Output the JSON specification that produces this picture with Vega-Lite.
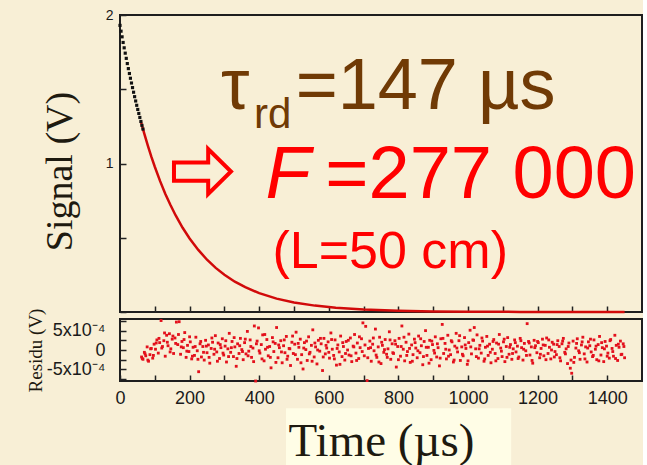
{
  "$schema": "https://vega.github.io/schema/vega-lite/v6.json",
  "background": "#F8EFD6",
  "padding": {"left": 25, "top": 7, "right": 0, "bottom": 0},
  "bounds": "flush",
  "spacing": 7,
  "datasets": {
    "raw": [
      {"t":0,"v":1.930},{"t":3,"v":1.891},{"t":6,"v":1.853},{"t":9,"v":1.815},{"t":12,"v":1.779},{"t":15,"v":1.743},{"t":18,"v":1.708},{"t":21,"v":1.673},{"t":24,"v":1.639},{"t":27,"v":1.606},{"t":30,"v":1.574},{"t":33,"v":1.542},{"t":36,"v":1.511},{"t":39,"v":1.480},{"t":42,"v":1.450},{"t":45,"v":1.421},{"t":48,"v":1.392},{"t":51,"v":1.364},{"t":54,"v":1.337},{"t":57,"v":1.310},{"t":60,"v":1.283},{"t":63,"v":1.257},{"t":66,"v":1.232}
    ],
    "fit": [
      {"t":60,"v":1.283},{"t":70,"v":1.199},{"t":80,"v":1.120},{"t":90,"v":1.046},{"t":100,"v":0.978},{"t":115,"v":0.883},{"t":130,"v":0.797},{"t":145,"v":0.720},{"t":160,"v":0.650},{"t":180,"v":0.567},{"t":200,"v":0.495},{"t":225,"v":0.418},{"t":250,"v":0.352},{"t":275,"v":0.297},{"t":300,"v":0.251},{"t":330,"v":0.204},{"t":360,"v":0.167},{"t":400,"v":0.127},{"t":450,"v":0.090},{"t":500,"v":0.064},{"t":560,"v":0.043},{"t":620,"v":0.028},{"t":700,"v":0.0165},{"t":800,"v":0.0084},{"t":900,"v":0.0042},{"t":1000,"v":0.0021},{"t":1150,"v":0.0008},{"t":1300,"v":0.0003},{"t":1450,"v":0.0001}
    ],
    "res": [
      {"t":62,"r":-1.8e-4},{"t":66,"r":-2.4e-4},{"t":70,"r":-0.6e-4},{"t":74,"r":-1.5e-4},{"t":78,"r":0.8e-4},{"t":82,"r":-2.9e-4},{"t":86,"r":-1.2e-4},{"t":90,"r":0.4e-4},{"t":94,"r":-2.1e-4},{"t":98,"r":1.5e-4},
      {"t":102,"r":0.2e-4},{"t":106,"r":2.6e-4},{"t":110,"r":-0.8e-4},{"t":114,"r":1.9e-4},{"t":118,"r":7.6e-4},{"t":122,"r":0.9e-4},{"t":126,"r":2.4e-4},{"t":130,"r":-1.6e-4},{"t":134,"r":3.8e-4},{"t":138,"r":1.1e-4},
      {"t":142,"r":4.2e-4},{"t":146,"r":0.3e-4},{"t":150,"r":2.8e-4},{"t":154,"r":-0.9e-4},{"t":158,"r":3.1e-4},{"t":162,"r":7.2e-4},{"t":166,"r":1.4e-4},{"t":170,"r":7.3e-4},{"t":174,"r":-1.1e-4},{"t":178,"r":2.2e-4},
      {"t":182,"r":0.6e-4},{"t":186,"r":4.5e-4},{"t":190,"r":-1.9e-4},{"t":194,"r":1.2e-4},{"t":198,"r":-0.4e-4},{"t":202,"r":2.1e-4},{"t":206,"r":-2.3e-4},{"t":210,"r":0.7e-4},{"t":214,"r":-1.4e-4},{"t":218,"r":3.3e-4},
      {"t":222,"r":-0.2e-4},{"t":226,"r":-5.6e-4},{"t":230,"r":1.6e-4},{"t":234,"r":-1.8e-4},{"t":238,"r":0.9e-4},{"t":242,"r":-2.6e-4},{"t":246,"r":2.5e-4},{"t":250,"r":-0.7e-4},{"t":254,"r":1.3e-4},{"t":258,"r":-3.4e-4},
      {"t":262,"r":0.4e-4},{"t":266,"r":2.0e-4},{"t":270,"r":-1.1e-4},{"t":274,"r":3.7e-4},{"t":278,"r":-0.5e-4},{"t":282,"r":1.8e-4},{"t":286,"r":-2.2e-4},{"t":290,"r":0.6e-4},{"t":294,"r":2.9e-4},{"t":298,"r":-1.3e-4},
      {"t":302,"r":1.0e-4},{"t":306,"r":-3.1e-4},{"t":310,"r":0.3e-4},{"t":314,"r":4.3e-4},{"t":318,"r":-0.6e-4},{"t":322,"r":2.2e-4},{"t":326,"r":-1.7e-4},{"t":330,"r":0.8e-4},{"t":334,"r":-4.2e-4},{"t":338,"r":1.6e-4},
      {"t":342,"r":-0.9e-4},{"t":346,"r":3.0e-4},{"t":350,"r":0.1e-4},{"t":354,"r":-2.5e-4},{"t":358,"r":1.9e-4},{"t":362,"r":-1.0e-4},{"t":366,"r":4.8e-4},{"t":370,"r":-0.3e-4},{"t":374,"r":2.6e-4},{"t":378,"r":-1.9e-4},
      {"t":382,"r":0.5e-4},{"t":386,"r":6.2e-4},{"t":390,"r":-8.0e-4},{"t":394,"r":2.3e-4},{"t":398,"r":5.7e-4},{"t":402,"r":-0.8e-4},{"t":406,"r":1.4e-4},{"t":410,"r":3.9e-4},{"t":414,"r":-2.8e-4},{"t":418,"r":0.2e-4},
      {"t":422,"r":2.7e-4},{"t":426,"r":-1.5e-4},{"t":430,"r":0.9e-4},{"t":434,"r":-4.6e-4},{"t":438,"r":3.2e-4},{"t":442,"r":-0.4e-4},{"t":446,"r":1.7e-4},{"t":450,"r":5.8e-4},{"t":454,"r":-2.0e-4},{"t":458,"r":0.6e-4},
      {"t":462,"r":2.4e-4},{"t":466,"r":-3.3e-4},{"t":470,"r":1.1e-4},{"t":474,"r":-0.7e-4},{"t":478,"r":3.5e-4},{"t":482,"r":-1.6e-4},{"t":486,"r":0.4e-4},{"t":490,"r":-4.0e-4},{"t":494,"r":2.0e-4},{"t":498,"r":-0.9e-4},
      {"t":502,"r":1.5e-4},{"t":506,"r":4.6e-4},{"t":510,"r":-2.4e-4},{"t":514,"r":0.7e-4},{"t":518,"r":2.8e-4},{"t":522,"r":-1.2e-4},{"t":526,"r":-4.9e-4},{"t":530,"r":1.9e-4},{"t":534,"r":0.1e-4},{"t":538,"r":-2.7e-4},
      {"t":542,"r":3.4e-4},{"t":546,"r":-0.6e-4},{"t":550,"r":1.2e-4},{"t":554,"r":5.2e-4},{"t":558,"r":-1.8e-4},{"t":562,"r":0.8e-4},{"t":566,"r":-3.6e-4},{"t":570,"r":2.5e-4},{"t":574,"r":-0.3e-4},{"t":578,"r":1.6e-4},
      {"t":582,"r":-5.3e-4},{"t":586,"r":3.0e-4},{"t":590,"r":-1.0e-4},{"t":594,"r":0.5e-4},{"t":598,"r":2.1e-4},{"t":602,"r":-2.1e-4},{"t":606,"r":4.4e-4},{"t":610,"r":0.2e-4},{"t":614,"r":-1.4e-4},{"t":618,"r":2.6e-4},
      {"t":622,"r":-3.9e-4},{"t":626,"r":1.3e-4},{"t":630,"r":-0.5e-4},{"t":634,"r":3.6e-4},{"t":638,"r":-1.7e-4},{"t":642,"r":0.9e-4},{"t":646,"r":-2.6e-4},{"t":650,"r":2.2e-4},{"t":654,"r":0.0},{"t":658,"r":-1.3e-4},
      {"t":662,"r":3.1e-4},{"t":666,"r":-3.0e-4},{"t":670,"r":1.0e-4},{"t":674,"r":4.0e-4},{"t":678,"r":-0.8e-4},{"t":682,"r":1.8e-4},{"t":686,"r":-2.2e-4},{"t":690,"r":0.6e-4},{"t":694,"r":2.9e-4},{"t":698,"r":7.0e-4},
      {"t":702,"r":-1.5e-4},{"t":706,"r":6.1e-4},{"t":710,"r":-7.9e-4},{"t":714,"r":0.4e-4},{"t":718,"r":2.3e-4},{"t":722,"r":-2.9e-4},{"t":726,"r":1.5e-4},{"t":730,"r":-0.2e-4},{"t":734,"r":5.4e-4},{"t":738,"r":-1.9e-4},
      {"t":742,"r":0.8e-4},{"t":746,"r":3.3e-4},{"t":750,"r":-3.5e-4},{"t":754,"r":1.2e-4},{"t":758,"r":-0.6e-4},{"t":762,"r":2.7e-4},{"t":766,"r":-1.1e-4},{"t":770,"r":0.3e-4},{"t":774,"r":4.7e-4},{"t":778,"r":-2.4e-4},
      {"t":782,"r":1.6e-4},{"t":786,"r":-0.9e-4},{"t":790,"r":2.4e-4},{"t":794,"r":-4.4e-4},{"t":798,"r":0.9e-4},{"t":802,"r":3.0e-4},{"t":806,"r":-1.6e-4},{"t":810,"r":6.2e-4},{"t":814,"r":0.2e-4},{"t":818,"r":-2.8e-4},
      {"t":822,"r":2.0e-4},{"t":826,"r":-0.4e-4},{"t":830,"r":4.1e-4},{"t":834,"r":-3.2e-4},{"t":838,"r":1.3e-4},{"t":842,"r":-1.2e-4},{"t":846,"r":2.8e-4},{"t":850,"r":0.5e-4},{"t":854,"r":-2.0e-4},{"t":858,"r":3.6e-4},
      {"t":862,"r":-0.7e-4},{"t":866,"r":1.1e-4},{"t":870,"r":-3.8e-4},{"t":874,"r":2.2e-4},{"t":878,"r":5.0e-4},{"t":882,"r":-1.4e-4},{"t":886,"r":0.7e-4},{"t":890,"r":2.5e-4},{"t":894,"r":-2.5e-4},{"t":898,"r":1.4e-4},
      {"t":902,"r":-0.1e-4},{"t":906,"r":3.4e-4},{"t":910,"r":-1.8e-4},{"t":914,"r":0.6e-4},{"t":918,"r":-4.1e-4},{"t":922,"r":2.9e-4},{"t":926,"r":6.6e-4},{"t":930,"r":-0.9e-4},{"t":934,"r":1.7e-4},{"t":938,"r":-2.3e-4},
      {"t":942,"r":3.8e-4},{"t":946,"r":0.0},{"t":950,"r":-1.2e-4},{"t":954,"r":2.1e-4},{"t":958,"r":-3.1e-4},{"t":962,"r":1.0e-4},{"t":966,"r":4.3e-4},{"t":970,"r":-0.5e-4},{"t":974,"r":2.4e-4},{"t":978,"r":-2.7e-4},
      {"t":982,"r":0.8e-4},{"t":986,"r":-1.5e-4},{"t":990,"r":3.2e-4},{"t":994,"r":0.4e-4},{"t":998,"r":-3.7e-4},{"t":1002,"r":1.9e-4},{"t":1006,"r":5.1e-4},{"t":1010,"r":-1.0e-4},{"t":1014,"r":2.6e-4},{"t":1018,"r":5.8e-4},
      {"t":1022,"r":0.3e-4},{"t":1026,"r":3.9e-4},{"t":1030,"r":-2.1e-4},{"t":1034,"r":1.2e-4},{"t":1038,"r":-0.8e-4},{"t":1042,"r":2.3e-4},{"t":1046,"r":-2.9e-4},{"t":1050,"r":0.7e-4},{"t":1054,"r":3.5e-4},{"t":1058,"r":-1.4e-4},
      {"t":1062,"r":1.5e-4},{"t":1066,"r":-3.3e-4},{"t":1070,"r":0.2e-4},{"t":1074,"r":2.7e-4},{"t":1078,"r":-0.9e-4},{"t":1082,"r":1.8e-4},{"t":1086,"r":-2.2e-4},{"t":1090,"r":4.0e-4},{"t":1094,"r":0.5e-4},{"t":1098,"r":-1.7e-4},
      {"t":1102,"r":2.1e-4},{"t":1106,"r":-3.0e-4},{"t":1110,"r":0.9e-4},{"t":1114,"r":3.2e-4},{"t":1118,"r":-1.1e-4},{"t":1122,"r":1.4e-4},{"t":1126,"r":-2.4e-4},{"t":1130,"r":0.3e-4},{"t":1134,"r":2.6e-4},{"t":1138,"r":-0.5e-4},
      {"t":1142,"r":1.0e-4},{"t":1146,"r":-1.8e-4},{"t":1150,"r":3.0e-4},{"t":1154,"r":0.6e-4},{"t":1158,"r":-2.6e-4},{"t":1162,"r":1.7e-4},{"t":1166,"r":-0.2e-4},{"t":1170,"r":6.8e-4},{"t":1174,"r":2.2e-4},{"t":1178,"r":-1.3e-4},
      {"t":1182,"r":0.8e-4},{"t":1186,"r":-3.4e-4},{"t":1190,"r":2.5e-4},{"t":1194,"r":1.1e-4},{"t":1198,"r":-0.7e-4},{"t":1202,"r":1.9e-4},{"t":1206,"r":-2.0e-4},{"t":1210,"r":0.4e-4},{"t":1214,"r":2.8e-4},{"t":1218,"r":-1.5e-4},
      {"t":1222,"r":1.2e-4},{"t":1226,"r":3.1e-4},{"t":1230,"r":-0.9e-4},{"t":1234,"r":0.7e-4},{"t":1238,"r":-2.3e-4},{"t":1242,"r":2.0e-4},{"t":1246,"r":1.5e-4},{"t":1250,"r":-0.4e-4},{"t":1254,"r":-1.2e-4},{"t":1258,"r":2.4e-4},
      {"t":1262,"r":0.9e-4},{"t":1266,"r":-2.8e-4},{"t":1270,"r":1.6e-4},{"t":1274,"r":3.0e-4},{"t":1278,"r":-0.6e-4},{"t":1282,"r":0.3e-4},{"t":1286,"r":-3.5e-4},{"t":1290,"r":1.8e-4},{"t":1294,"r":-4.7e-4},{"t":1298,"r":-6.0e-4},
      {"t":1302,"r":2.3e-4},{"t":1306,"r":-1.9e-4},{"t":1310,"r":0.5e-4},{"t":1314,"r":2.9e-4},{"t":1318,"r":-0.2e-4},{"t":1322,"r":-2.4e-4},{"t":1326,"r":1.3e-4},{"t":1330,"r":3.3e-4},{"t":1334,"r":-1.0e-4},{"t":1338,"r":0.8e-4},
      {"t":1342,"r":-3.1e-4},{"t":1346,"r":2.1e-4},{"t":1350,"r":1.1e-4},{"t":1354,"r":-0.5e-4},{"t":1358,"r":-1.7e-4},{"t":1362,"r":2.6e-4},{"t":1366,"r":0.2e-4},{"t":1370,"r":-2.5e-4},{"t":1374,"r":1.4e-4},{"t":1378,"r":3.5e-4},
      {"t":1382,"r":-1.3e-4},{"t":1386,"r":0.6e-4},{"t":1390,"r":-3.0e-4},{"t":1394,"r":2.2e-4},{"t":1398,"r":1.0e-4},{"t":1402,"r":-0.8e-4},{"t":1406,"r":-2.1e-4},{"t":1410,"r":2.7e-4},{"t":1414,"r":0.4e-4},{"t":1418,"r":-1.6e-4},
      {"t":1422,"r":3.8e-4},{"t":1426,"r":1.2e-4},{"t":1430,"r":-2.7e-4},{"t":1434,"r":0.7e-4},{"t":1438,"r":2.3e-4},{"t":1442,"r":-1.1e-4},{"t":1446,"r":1.6e-4},{"t":1450,"r":-2.0e-4},
      {"t":64,"r":-2.2e-4},{"t":72,"r":-1.0e-4},{"t":80,"r":-2.6e-4},{"t":88,"r":0.3e-4},{"t":96,"r":-1.4e-4},{"t":104,"r":1.8e-4},{"t":112,"r":3.0e-4},{"t":120,"r":0.5e-4},{"t":128,"r":4.4e-4},{"t":136,"r":2.0e-4},
      {"t":144,"r":-0.5e-4},{"t":152,"r":3.6e-4},{"t":160,"r":1.7e-4},{"t":168,"r":4.0e-4},{"t":176,"r":0.8e-4},{"t":184,"r":2.7e-4},{"t":192,"r":-0.3e-4},{"t":200,"r":3.4e-4},{"t":208,"r":-1.6e-4},{"t":216,"r":0.9e-4},
      {"t":224,"r":-2.4e-4},{"t":232,"r":2.2e-4},{"t":240,"r":-0.6e-4},{"t":248,"r":1.0e-4},{"t":256,"r":-1.9e-4},{"t":264,"r":3.1e-4},{"t":272,"r":0.2e-4},{"t":280,"r":-2.9e-4},{"t":288,"r":1.4e-4},{"t":296,"r":-0.8e-4},
      {"t":304,"r":2.4e-4},{"t":312,"r":-1.7e-4},{"t":320,"r":0.6e-4},{"t":328,"r":3.2e-4},{"t":336,"r":-2.2e-4},{"t":344,"r":1.1e-4},{"t":352,"r":-0.4e-4},{"t":360,"r":2.8e-4},{"t":368,"r":-1.5e-4},{"t":376,"r":0.9e-4},
      {"t":384,"r":-3.0e-4},{"t":392,"r":1.6e-4},{"t":400,"r":-0.2e-4},{"t":408,"r":-2.3e-4},{"t":416,"r":4.0e-4},{"t":424,"r":0.7e-4},{"t":432,"r":-1.9e-4},{"t":440,"r":2.1e-4},{"t":448,"r":-3.2e-4},{"t":456,"r":1.3e-4},
      {"t":464,"r":-0.5e-4},{"t":472,"r":2.6e-4},{"t":480,"r":-2.4e-4},{"t":488,"r":0.3e-4},{"t":496,"r":3.6e-4},{"t":504,"r":-1.2e-4},{"t":512,"r":1.7e-4},{"t":520,"r":-3.3e-4},{"t":528,"r":0.5e-4},{"t":536,"r":2.3e-4},
      {"t":544,"r":-1.0e-4},{"t":552,"r":-2.9e-4},{"t":560,"r":1.8e-4},{"t":568,"r":0.0},{"t":576,"r":3.0e-4},{"t":584,"r":-1.8e-4},{"t":592,"r":1.2e-4},{"t":600,"r":-0.6e-4},{"t":608,"r":2.7e-4},{"t":616,"r":-2.3e-4},
      {"t":624,"r":0.4e-4},{"t":632,"r":-3.7e-4},{"t":640,"r":1.9e-4},{"t":648,"r":-0.9e-4},{"t":656,"r":2.5e-4},{"t":664,"r":-1.5e-4},{"t":672,"r":0.8e-4},{"t":680,"r":-2.7e-4},{"t":688,"r":3.4e-4},{"t":696,"r":-0.4e-4},
      {"t":704,"r":1.3e-4},{"t":712,"r":-2.0e-4},{"t":720,"r":0.6e-4},{"t":728,"r":3.1e-4},{"t":736,"r":-1.3e-4},{"t":744,"r":-3.1e-4},{"t":752,"r":2.0e-4},{"t":760,"r":0.1e-4},{"t":768,"r":-1.9e-4},{"t":776,"r":2.6e-4},
      {"t":784,"r":-0.7e-4},{"t":792,"r":1.5e-4},{"t":800,"r":-2.5e-4},{"t":808,"r":0.9e-4},{"t":816,"r":3.3e-4},{"t":824,"r":-1.4e-4},{"t":832,"r":0.4e-4},{"t":840,"r":-2.9e-4},{"t":848,"r":1.9e-4},{"t":856,"r":-0.2e-4},
      {"t":864,"r":2.9e-4},{"t":872,"r":-1.7e-4},{"t":880,"r":0.7e-4},{"t":888,"r":-3.4e-4},{"t":896,"r":2.3e-4},{"t":904,"r":-0.8e-4},{"t":912,"r":1.6e-4},{"t":920,"r":-2.1e-4},{"t":928,"r":3.0e-4},{"t":936,"r":0.2e-4},
      {"t":944,"r":-1.6e-4},{"t":952,"r":2.4e-4},{"t":960,"r":-2.6e-4},{"t":968,"r":0.5e-4},{"t":976,"r":3.7e-4},{"t":984,"r":-1.1e-4},{"t":992,"r":1.3e-4},{"t":1000,"r":-2.8e-4},{"t":1008,"r":0.8e-4},{"t":1016,"r":2.5e-4},
      {"t":1024,"r":-1.7e-4},{"t":1032,"r":0.3e-4},{"t":1040,"r":3.1e-4},{"t":1048,"r":-2.3e-4},{"t":1056,"r":1.0e-4},{"t":1064,"r":-0.6e-4},{"t":1072,"r":2.2e-4},{"t":1080,"r":-2.8e-4},{"t":1088,"r":1.5e-4},{"t":1096,"r":-0.3e-4},
      {"t":1104,"r":2.8e-4},{"t":1112,"r":-1.9e-4},{"t":1120,"r":0.7e-4},{"t":1128,"r":-0.9e-4},{"t":1136,"r":1.9e-4},{"t":1144,"r":-2.2e-4},{"t":1152,"r":2.4e-4},{"t":1160,"r":0.2e-4},{"t":1168,"r":-1.4e-4},{"t":1176,"r":1.8e-4},
      {"t":1184,"r":-2.7e-4},{"t":1192,"r":0.6e-4},{"t":1200,"r":2.2e-4},{"t":1208,"r":-1.1e-4},{"t":1216,"r":1.3e-4},{"t":1224,"r":-2.5e-4},{"t":1232,"r":2.6e-4},{"t":1240,"r":0.0},{"t":1248,"r":-1.8e-4},{"t":1256,"r":1.4e-4},
      {"t":1264,"r":-2.0e-4},{"t":1272,"r":2.3e-4},{"t":1280,"r":-1.0e-4},{"t":1288,"r":0.9e-4},{"t":1296,"r":-2.6e-4},{"t":1304,"r":-3.2e-4},{"t":1312,"r":1.7e-4},{"t":1320,"r":-0.7e-4},{"t":1328,"r":2.1e-4},{"t":1336,"r":-2.3e-4},
      {"t":1344,"r":0.5e-4},{"t":1352,"r":2.8e-4},{"t":1360,"r":-1.4e-4},{"t":1368,"r":1.0e-4},{"t":1376,"r":-2.8e-4},{"t":1384,"r":1.9e-4},{"t":1392,"r":0.3e-4},{"t":1400,"r":-1.6e-4},{"t":1408,"r":2.4e-4},{"t":1416,"r":-0.4e-4},
      {"t":1424,"r":-2.2e-4},{"t":1432,"r":1.5e-4},{"t":1440,"r":-1.2e-4},{"t":1448,"r":0.9e-4}
    ]
  },
  "vconcat": [
    {
      "width": 522,
      "height": 297,
      "encoding": {
        "x": {"field": "t", "type": "quantitative", "scale": {"domain": [0, 1500], "nice": false},
          "axis": {"values": [100,200,300,400,500,600,700,800,900,1000,1100,1200,1300,1400], "labels": false, "tickSize": -6, "title": null}},
        "y": {"field": "v", "type": "quantitative", "scale": {"domain": [0, 2], "nice": false},
          "axis": {"values": [0, 0.5, 1, 1.5, 2], "labelExpr": "datum.value == 1 ? '1' : datum.value == 2 ? '2' : ''", "tickSize": -6, "labelFontSize": 14, "labelPadding": 13,
            "title": "Signal (V)", "titleFontSize": 38, "titleX": -49, "titleY": 156, "titleBaseline": "alphabetic", "titleAngle": 270}}
      },
      "layer": [
        {"data": {"name": "fit"}, "mark": {"type": "line", "color": "#D10A0A", "strokeWidth": 2.5}},
        {"data": {"name": "raw"}, "mark": {"type": "square", "color": "#111111", "size": 10, "opacity": 1}},
        {"data": {"values": [{"t": 290, "v": 1.367, "label": "τ"}, {"t": 505, "v": 1.367, "label": "=147 µs"}]},
          "mark": {"type": "text", "align": "left", "baseline": "alphabetic", "font": "Liberation Sans", "fontSize": 72, "color": "#703A05"},
          "encoding": {"text": {"field": "label"}}},
        {"data": {"values": [{"t": 385, "v": 1.239, "label": "rd"}]},
          "mark": {"type": "text", "align": "left", "baseline": "alphabetic", "font": "Liberation Sans", "fontSize": 42, "color": "#703A05"},
          "encoding": {"text": {"field": "label"}}},
        {"data": {"values": [{"t": 237, "v": 0.946}]},
          "mark": {"type": "point", "shape": "M-1,-0.32L0.2,-0.32L0.2,-0.79L1,0L0.2,0.79L0.2,0.32L-1,0.32Z", "size": 3249, "filled": false, "stroke": "#FF0000", "strokeWidth": 4, "opacity": 1}},
        {"data": {"values": [{"t": 418, "v": 0.768, "label": "F"}]},
          "mark": {"type": "text", "align": "left", "baseline": "alphabetic", "font": "Liberation Sans", "fontStyle": "italic", "fontSize": 74, "color": "#FF0000"},
          "encoding": {"text": {"field": "label"}}},
        {"data": {"values": [{"t": 590, "v": 0.768, "label": "=277 000"}]},
          "mark": {"type": "text", "align": "left", "baseline": "alphabetic", "font": "Liberation Sans", "fontSize": 74, "color": "#FF0000"},
          "encoding": {"text": {"field": "label"}}},
        {"data": {"values": [{"t": 438, "v": 0.296, "label": "(L=50 cm)"}]},
          "mark": {"type": "text", "align": "left", "baseline": "alphabetic", "font": "Liberation Sans", "fontSize": 52, "color": "#FF0000"},
          "encoding": {"text": {"field": "label"}}}
      ]
    },
    {
      "width": 522,
      "height": 62,
      "layer": [
        {"data": {"values": [{}]},
          "mark": {"type": "rect", "fill": "#FFFDE6", "clip": false},
          "encoding": {
            "x": {"datum": 477, "type": "quantitative", "scale": {"domain": [0, 1500], "nice": false},
              "axis": {"values": [0,100,200,300,400,500,600,700,800,900,1000,1100,1200,1300,1400], "labelExpr": "datum.value % 200 == 0 ? '' + datum.value : ''",
                "tickSize": -6, "labelFontSize": 18, "labelPadding": 14, "title": "Time (µs)", "titleFontSize": 47, "titleY": 74, "titleBaseline": "alphabetic", "zindex": 1}},
            "x2": {"datum": 1124},
            "y": {"datum": -0.0015, "type": "quantitative", "scale": {"domain": [-0.0008, 0.0008], "nice": false},
              "axis": {"values": [-0.00075, -0.0005, -0.00025, 0, 0.00025, 0.0005, 0.00075],
                "labelExpr": "datum.value == 0.0005 ? '5x10⁻⁴' : datum.value == -0.0005 ? '-5x10⁻⁴' : datum.value == 0 ? '0' : ''",
                "tickSize": -6, "labelFontSize": 18, "labelPadding": 21, "title": "Residu (V)", "titleFontSize": 19, "titleX": -79, "titleBaseline": "alphabetic", "titleAngle": 270}},
            "y2": {"datum": -0.003}
          }},
        {"data": {"name": "res"},
          "mark": {"type": "square", "color": "#E3101C", "size": 8, "opacity": 1},
          "encoding": {
            "x": {"field": "t", "type": "quantitative", "scale": {"domain": [0, 1500], "nice": false},
              "axis": {"values": [0,100,200,300,400,500,600,700,800,900,1000,1100,1200,1300,1400], "labelExpr": "datum.value % 200 == 0 ? '' + datum.value : ''",
                "tickSize": -6, "labelFontSize": 18, "labelPadding": 14, "title": "Time (µs)", "titleFontSize": 47, "titleY": 74, "titleBaseline": "alphabetic", "zindex": 1}},
            "y": {"field": "r", "type": "quantitative", "scale": {"domain": [-0.0008, 0.0008], "nice": false},
              "axis": {"values": [-0.00075, -0.0005, -0.00025, 0, 0.00025, 0.0005, 0.00075],
                "labelExpr": "datum.value == 0.0005 ? '5x10⁻⁴' : datum.value == -0.0005 ? '-5x10⁻⁴' : datum.value == 0 ? '0' : ''",
                "tickSize": -6, "labelFontSize": 18, "labelPadding": 21, "title": "Residu (V)", "titleFontSize": 19, "titleX": -79, "titleBaseline": "alphabetic", "titleAngle": 270}}
          }}
      ]
    }
  ],
  "config": {
    "view": {"stroke": "#1E1E1E", "strokeWidth": 2},
    "axis": {"grid": false, "domain": false, "tickColor": "#222222", "tickWidth": 1.5, "labelFont": "Liberation Sans", "labelColor": "#1A1A1A", "labelFlush": false, "labelOverlap": false, "titleFont": "Liberation Serif", "titleColor": "#1E1A10", "titleFontWeight": "normal"}
  }
}
